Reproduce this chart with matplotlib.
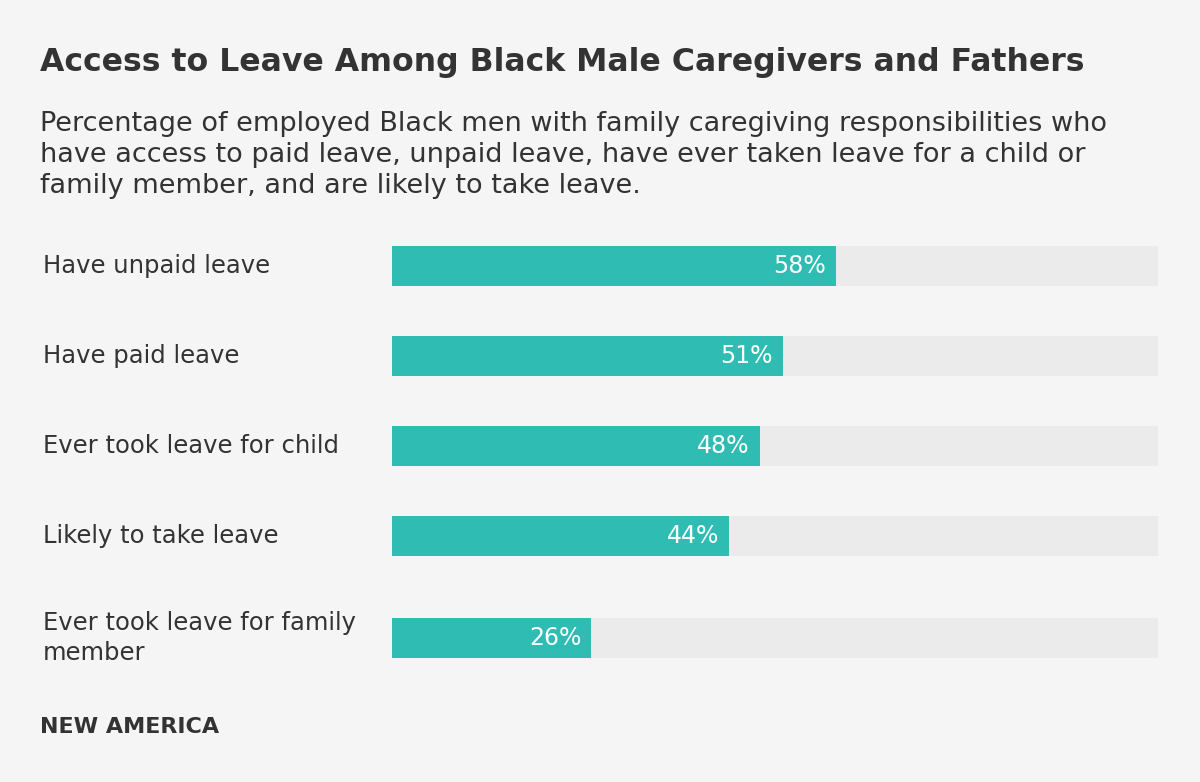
import matplotlib.pyplot as plt

# ====== data ======
labels = ['Have unpaid leave', 'Have paid leave', 'Ever took leave for child',
          'Likely to take leave', 'Ever took leave for family\nmember']
values = [58, 51, 48, 44, 26]
# ==================

bg = '#f5f5f5'
track = '#ebebeb'
teal = '#2fbdb3'
dark = '#333333'
font = 'DejaVu Sans'

W, H = 1200, 782
fig = plt.figure(figsize=(W / 100, H / 100), dpi=100, facecolor=bg)

# bars axis: x in percent, y in pixels from the top
x0, x1 = 392, 1158
ax = fig.add_axes([x0 / W, 0, (x1 - x0) / W, 1])
ax.set_xlim(0, 100)
ax.set_ylim(H, 0)
ax.axis('off')

y = 266
for lab, v in zip(labels, values):
    if '\n' in lab:
        y += 12
    ax.barh(y, 100, height=40, color=track, linewidth=0)
    ax.barh(y, v, height=40, color=teal, linewidth=0)
    ax.text(v - 1.3, y, f'{v}%', color='white', ha='right', va='center',
            fontsize=17, family=font)
    fig.text(43 / W, 1 - y / H, lab, ha='left', va='center', fontsize=17.5,
             color=dark, family=font, linespacing=1.3)
    y += 90

fig.text(40 / W, 1 - 62 / H, 'Access to Leave Among Black Male Caregivers and Fathers',
         ha='left', va='center', fontsize=22.7, fontweight='bold', color=dark, family=font)
fig.text(40 / W, 1 - 155 / H,
         'Percentage of employed Black men with family caregiving responsibilities who\n'
         'have access to paid leave, unpaid leave, have ever taken leave for a child or\n'
         'family member, and are likely to take leave.',
         ha='left', va='center', fontsize=19.5, color=dark, family=font, linespacing=1.27)
fig.text(40 / W, 1 - 727 / H, 'NEW AMERICA', ha='left', va='center', fontsize=16,
         fontweight='bold', color=dark, family=font)

fig.savefig('out.png', dpi=100, facecolor=bg)
